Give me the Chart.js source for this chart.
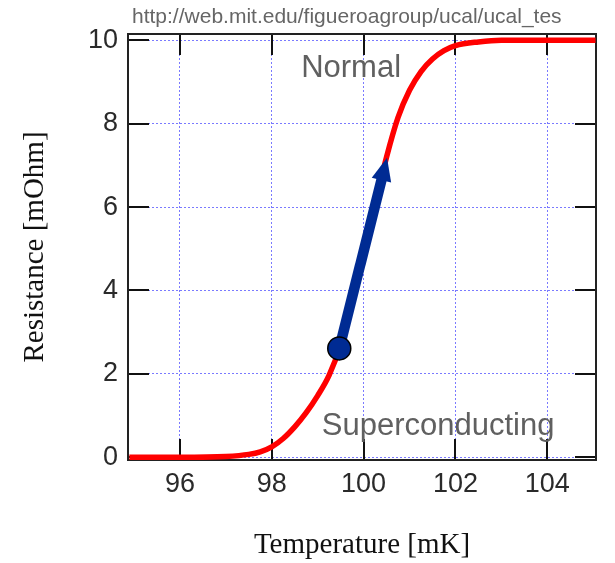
<!DOCTYPE html>
<html>
<head>
<meta charset="utf-8">
<script src="https://cdn.jsdelivr.net/npm/chart.js@4.4.1/dist/chart.umd.min.js"></script>
<style>
  html, body { margin: 0; padding: 0; background: #ffffff; }
  #wrap { width: 615px; height: 563px; position: relative; }
</style>
</head>
<body>
<div id="wrap"><canvas id="c" width="615" height="563"></canvas></div>
<script>
// Superconducting transition of a TES: resistance versus temperature
const temperature = [94.9, 96, 97, 97.5, 97.75, 98, 98.25, 98.5, 98.75, 99, 99.25, 99.5, 99.75, 100, 100.25, 100.5, 100.75, 101, 101.25, 101.5, 101.75, 102, 102.5, 103, 104, 105.05];
const resistance  = [0, 0, 0.02, 0.07, 0.13, 0.25, 0.45, 0.73, 1.07, 1.48, 1.97, 2.7, 3.75, 4.9, 6.05, 7.2, 8.15, 8.8, 9.25, 9.55, 9.75, 9.87, 9.96, 10, 10, 10];

// bias point and the direction of the arrow drawn along the transition
const biasPoint = [99.47, 2.61];
const arrowTip  = [100.51, 7.18];

// axis ticks
const xTicks = [96, 98, 100, 102, 104];
const yTicks = [0, 2, 4, 6, 8, 10];

// region labels (anchor = left end of baseline, in data units)
const labels = [
  { text: 'Normal',          at: [98.64, 9.13] },
  { text: 'Superconducting', at: [99.09, 0.54] }
];
const sourceUrl = 'http://web.mit.edu/figueroagroup/ucal/ucal_tes';

const BLUE = '#002b93';

const decorations = {
  id: 'decorations',
  beforeDatasetsDraw(chart) {
    const { ctx, chartArea: a, scales: { x, y } } = chart;
    ctx.save();
    // inward tick marks on all four sides
    ctx.strokeStyle = '#111';
    ctx.lineWidth = 2;
    const len = 21;
    ctx.beginPath();
    xTicks.forEach(v => {
      const px = Math.round(x.getPixelForValue(v));
      ctx.moveTo(px, a.bottom); ctx.lineTo(px, a.bottom - len);
      ctx.moveTo(px, a.top);    ctx.lineTo(px, a.top + len);
    });
    yTicks.forEach(v => {
      const py = Math.round(y.getPixelForValue(v));
      ctx.moveTo(a.left, py);  ctx.lineTo(a.left + len, py);
      ctx.moveTo(a.right, py); ctx.lineTo(a.right - len, py);
    });
    ctx.stroke();
    // plot frame
    ctx.strokeStyle = '#222';
    ctx.lineWidth = 2;
    ctx.strokeRect(a.left, a.top, a.right - a.left, a.bottom - a.top);
    ctx.restore();
  },
  afterDatasetDraw(chart, args) {
    if (args.index !== 1) return;
    // arrow from the bias point up the transition
    const { ctx, scales: { x, y } } = chart;
    const x0 = x.getPixelForValue(biasPoint[0]), y0 = y.getPixelForValue(biasPoint[1]);
    const x1 = x.getPixelForValue(arrowTip[0]),  y1 = y.getPixelForValue(arrowTip[1]);
    const ang = Math.atan2(y1 - y0, x1 - x0);
    const headLen = 23, headHalf = 10;
    const bx = x1 - headLen * Math.cos(ang), by = y1 - headLen * Math.sin(ang);
    ctx.save();
    ctx.strokeStyle = BLUE;
    ctx.fillStyle = BLUE;
    ctx.lineWidth = 10.5;
    ctx.lineCap = 'butt';
    ctx.beginPath();
    ctx.moveTo(x0, y0);
    ctx.lineTo(bx + 1 * Math.cos(ang), by + 1 * Math.sin(ang));
    ctx.stroke();
    ctx.beginPath();
    ctx.moveTo(x1, y1);
    ctx.lineTo(bx + headHalf * Math.sin(ang), by - headHalf * Math.cos(ang));
    ctx.lineTo(bx - headHalf * Math.sin(ang), by + headHalf * Math.cos(ang));
    ctx.closePath();
    ctx.fill();
    ctx.restore();
  },
  afterDraw(chart) {
    const { ctx, scales: { x, y } } = chart;
    ctx.save();
    ctx.fillStyle = '#606060';
    ctx.font = '31px "Liberation Sans", Arial, sans-serif';
    ctx.textBaseline = 'alphabetic';
    ctx.textAlign = 'left';
    labels.forEach(l => {
      ctx.fillText(l.text, x.getPixelForValue(l.at[0]), y.getPixelForValue(l.at[1]));
    });
    ctx.fillStyle = '#666';
    ctx.font = '21px "Liberation Sans", Arial, sans-serif';
    ctx.fillText(sourceUrl, 132, 22.5);
    ctx.restore();
  }
};

const tickFont = { family: '"Liberation Sans", Arial, sans-serif', size: 27 };
const titleFont = { family: '"Liberation Serif", "Times New Roman", serif', size: 29, lineHeight: 1.2 };
const gridBlue = '#7a7aff';

new Chart(document.getElementById('c'), {
  type: 'scatter',
  data: {
    datasets: [
      {
        label: 'bias point',
        data: [{ x: biasPoint[0], y: biasPoint[1] }],
        pointRadius: 11.5,
        pointHoverRadius: 11.5,
        backgroundColor: BLUE,
        borderColor: '#000',
        borderWidth: 1.5
      },
      {
        type: 'line',
        label: 'R(T)',
        data: temperature.map((t, i) => ({ x: t, y: resistance[i] })),
        borderColor: '#ff0000',
        borderWidth: 5.5,
        pointRadius: 0,
        fill: false,
        cubicInterpolationMode: 'monotone'
      }
    ]
  },
  options: {
    responsive: false,
    animation: false,
    events: [],
    layout: { padding: { left: 0, right: 19, top: 34, bottom: 0 } },
    plugins: { legend: { display: false }, title: { display: false }, tooltip: { enabled: false } },
    scales: {
      x: {
        type: 'linear',
        min: 94.87,
        max: 105.06,
        afterBuildTicks: s => { s.ticks = xTicks.map(v => ({ value: v })); },
        afterFit: s => { s.height = 103; },
        ticks: { font: tickFont, color: '#2a2a2a', padding: 8, maxRotation: 0, autoSkip: false },
        grid: { color: gridBlue, lineWidth: 1, drawTicks: false },
        border: { display: false, dash: [2, 2] },
        title: { display: true, text: 'Temperature [mK]', font: titleFont, color: '#111', padding: { top: 0, bottom: 0 } }
      },
      y: {
        type: 'linear',
        min: -0.065,
        max: 10.15,
        afterBuildTicks: s => { s.ticks = yTicks.map(v => ({ value: v })); },
        afterFit: s => { s.width = 128; },
        ticks: { font: tickFont, color: '#2a2a2a', padding: 10, autoSkip: false },
        grid: { color: gridBlue, lineWidth: 1, drawTicks: false },
        border: { display: false, dash: [2, 2] },
        title: { display: true, text: 'Resistance [mOhm]', font: titleFont, color: '#111', padding: { top: 17.6, bottom: 0 } }
      }
    }
  },
  plugins: [decorations]
});
</script>
</body>
</html>
